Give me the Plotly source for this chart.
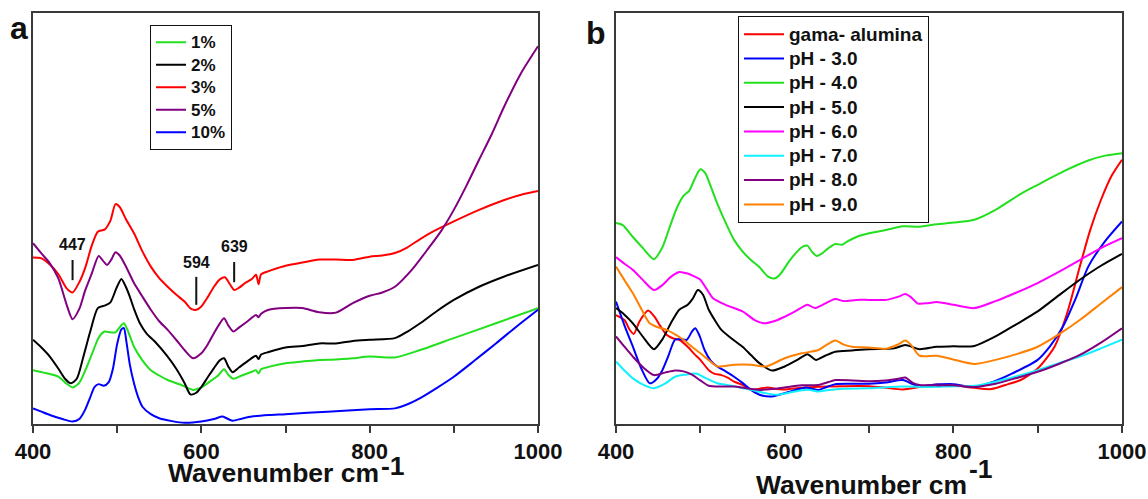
import plotly.graph_objects as go

# ---------------- Panel a: loading series (absorbance, a.u.) ----------------
wn_1 = [400, 415, 430, 440, 447, 455, 462, 470, 478, 485, 492, 498, 504, 508, 513, 520, 530, 540, 550, 560,
        575, 590, 600, 610, 620, 627, 632, 638, 648, 660, 665, 668, 671, 680, 700, 720, 740, 760, 780, 800,
        830, 860, 900, 950, 1000]
ab_1 = [13.1, 12.4, 11.5, 9.8, 8.9, 10.0, 13.0, 17.0, 21.0, 22.5, 22.3, 22.3, 23.8, 24.5, 22.5, 18.8, 15.5, 13.1, 11.8, 10.7,
        9.6, 8.3, 8.9, 10.3, 11.8, 13.3, 12.0, 11.0, 11.8, 12.7, 13.1, 12.3, 13.3, 13.9, 14.8, 15.2, 15.6, 15.7, 16.0, 16.4,
        16.2, 18.0, 20.9, 24.5, 28.2]

wn_2 = [400, 410, 420, 430, 438, 445, 452, 460, 468, 477, 485, 492, 499, 505, 510, 515, 520, 527, 535, 545,
        560, 570, 580, 587, 594, 600, 608, 615, 622, 627, 632, 637, 645, 655, 665, 668, 671, 680, 700, 720,
        740, 760, 780, 800, 830, 845, 860, 880, 900, 930, 960, 1000]
ab_2 = [20.5, 18.6, 16.4, 13.5, 11.0, 9.9, 11.0, 16.5, 22.5, 28.2, 28.8, 29.6, 33.0, 35.3, 33.5, 31.0, 28.0, 24.5, 22.0, 20.0,
        16.4, 13.5, 10.0, 7.2, 7.6, 9.0, 11.5, 13.6, 15.5, 16.0, 14.0, 12.6, 13.8, 15.3, 16.6, 15.8, 16.9, 17.5, 18.6, 19.0,
        19.6, 19.6, 20.2, 20.5, 20.9, 22.5, 24.5, 27.5, 30.2, 33.4, 35.9, 38.7]

wn_3 = [400, 410, 420, 430, 440, 447, 455, 462, 470, 477, 485, 492, 498, 503, 510, 520, 530, 540, 550, 560,
        570, 580, 588, 594, 600, 608, 615, 622, 628, 634, 639, 645, 652, 660, 665, 668, 671, 680, 690, 700,
        720, 740, 760, 780, 800, 815, 830, 845, 860, 875, 900, 930, 960, 980, 1000]
ab_3 = [40.5, 40.3, 38.8, 36.5, 33.0, 32.0, 34.5, 38.0, 43.5, 46.8, 47.3, 49.5, 53.5, 52.8, 50.0, 46.4, 42.0, 38.3, 35.5, 33.4,
        31.5, 29.8, 28.0, 27.8, 28.6, 31.0, 33.4, 35.2, 35.7, 34.0, 32.6, 33.2, 34.3, 35.3, 36.3, 34.0, 36.4, 37.2, 37.9, 38.5,
        39.3, 40.0, 40.0, 39.9, 40.7, 41.0, 41.6, 43.0, 45.0, 46.8, 49.3, 52.1, 54.5, 55.8, 56.7]

wn_5 = [400, 410, 420, 430, 440, 447, 455, 462, 470, 478, 484, 488, 493, 498, 503, 510, 520, 530, 540, 550,
        560, 570, 580, 590, 600, 608, 615, 622, 627, 632, 638, 645, 655, 665, 668, 671, 680, 700, 720, 740,
        760, 780, 800, 815, 830, 850, 870, 885, 900, 915, 930, 945, 960, 980, 1000]
ab_5 = [44.0, 41.5, 39.1, 35.5, 29.0, 25.5, 28.0, 32.5, 36.7, 40.9, 39.5, 38.7, 40.0, 41.8, 41.0, 38.5, 34.3, 31.0, 27.8, 25.0,
        22.9, 20.5, 18.0, 16.0, 17.2, 19.5, 22.1, 24.5, 25.7, 24.0, 22.5, 23.5, 25.0, 26.5, 26.0, 26.8, 27.8, 28.2, 28.2, 27.2,
        27.1, 29.4, 31.2, 32.0, 33.4, 37.5, 42.8, 47.0, 52.1, 58.0, 64.3, 70.5, 77.3, 85.4, 91.9]

wn_10 = [400, 410, 420, 435, 447, 455, 462, 468, 473, 478, 484, 490, 495, 500, 505, 508, 511, 515, 520, 525,
         530, 540, 550, 565, 580, 600, 615, 625, 630, 637, 648, 660, 680, 700, 750, 800, 830, 845, 860, 880,
         900, 925, 950, 975, 1000]
ab_10 = [3.8, 3.0, 2.2, 1.2, 0.6, 1.2, 3.5, 6.5, 9.0, 9.7, 9.3, 10.2, 13.5, 19.5, 23.0, 23.3, 20.0, 14.5, 9.9, 6.5,
         4.2, 2.4, 1.4, 0.7, 0.3, 0.6, 1.2, 1.8, 1.4, 0.8, 1.3, 1.8, 2.2, 2.4, 3.0, 3.6, 3.8, 4.8, 6.3, 8.8,
         11.5, 15.5, 19.6, 23.8, 27.8]

# ---------------- Panel b: pH series (absorbance, a.u.) ----------------
wn_ga = [400, 410, 416, 421, 428, 438, 446, 452, 460, 468, 475, 485, 493, 500, 510, 517, 525, 533, 540, 550,
         560, 570, 580, 590, 600, 620, 650, 700, 720, 740, 760, 780, 800, 825, 845, 865, 880, 900, 920, 935,
         950, 962, 975, 988, 1000]
ab_ga = [26.5, 25.3, 23.0, 21.9, 25.0, 27.6, 26.0, 24.0, 21.7, 20.8, 20.5, 18.8, 17.0, 15.6, 13.1, 12.2, 11.9, 11.2, 10.3, 9.5,
         8.3, 8.6, 8.9, 8.5, 8.4, 8.8, 9.1, 9.2, 8.8, 8.4, 9.0, 9.6, 9.4, 8.8, 8.5, 9.7, 10.7, 13.5, 18.8, 27.0,
         38.3, 47.0, 54.5, 60.5, 64.3]

wn_ph3 = [400, 410, 420, 430, 440, 448, 455, 462, 470, 477, 484, 490, 494, 499, 505, 512, 520, 530, 540, 550,
          560, 572, 585, 600, 615, 625, 632, 640, 650, 660, 680, 700, 720, 740, 752, 760, 780, 800, 825, 850,
          870, 900, 915, 930, 945, 960, 980, 1000]
ab_ph3 = [29.8, 24.0, 18.8, 13.5, 9.9, 10.9, 13.1, 16.5, 20.5, 20.6, 20.5, 22.5, 23.3, 21.5, 18.0, 15.5, 14.0, 12.8, 11.5, 10.0,
          8.3, 7.0, 6.7, 7.5, 8.4, 8.9, 8.6, 8.3, 9.0, 9.7, 9.8, 9.8, 10.1, 10.7, 9.7, 9.2, 9.6, 9.7, 9.0, 10.5,
          12.3, 15.6, 19.0, 23.7, 30.5, 38.3, 44.5, 49.3]

wn_ph4 = [400, 408, 420, 432, 445, 455, 463, 472, 480, 487, 493, 500, 506, 512, 520, 530, 540, 550, 560, 570,
          580, 588, 595, 605, 615, 622, 627, 632, 638, 645, 652, 660, 668, 675, 685, 700, 720, 740, 760, 780,
          800, 825, 850, 880, 900, 930, 960, 980, 1000]
ab_ph4 = [48.9, 48.4, 45.5, 42.8, 40.1, 43.0, 47.5, 52.5, 55.5, 56.8, 59.5, 62.0, 61.0, 58.0, 53.7, 49.0, 44.8, 42.0, 39.9, 38.2,
          35.9, 35.4, 36.5, 39.5, 42.0, 43.2, 43.4, 42.0, 40.9, 41.6, 42.8, 43.8, 43.6, 44.5, 45.5, 46.4, 47.2, 48.1, 48.0, 48.6,
          49.0, 49.7, 52.1, 56.0, 58.2, 61.4, 64.1, 65.3, 65.9]

wn_ph5 = [400, 410, 420, 432, 445, 455, 465, 475, 485, 491, 497, 503, 510, 518, 525, 537, 550, 560, 570, 585,
          600, 615, 627, 637, 648, 660, 680, 700, 730, 743, 760, 780, 800, 825, 850, 875, 900, 925, 950, 975,
          1000]
ab_ph5 = [28.2, 26.6, 24.5, 21.2, 18.2, 20.6, 24.5, 27.8, 29.0, 30.5, 32.6, 31.5, 27.8, 25.0, 22.9, 20.8, 18.8, 16.8, 14.8, 13.0,
          14.0, 15.6, 17.0, 15.6, 16.6, 17.6, 17.9, 18.2, 18.4, 19.2, 18.2, 18.8, 18.9, 19.0, 21.3, 24.3, 27.4, 31.3, 35.1, 38.5,
          41.4]

wn_ph6 = [400, 410, 420, 432, 445, 455, 465, 475, 485, 492, 500, 507, 515, 530, 550, 565, 575, 590, 600, 615,
          627, 636, 645, 660, 670, 685, 700, 720, 735, 743, 750, 758, 770, 780, 800, 825, 850, 875, 900, 925,
          950, 975, 1000]
ab_ph6 = [40.6, 39.0, 37.5, 35.0, 32.6, 33.8, 35.8, 37.0, 36.6, 36.0, 35.1, 33.0, 30.6, 29.0, 27.4, 25.2, 24.5, 25.2, 26.1, 27.7,
          29.0, 28.2, 29.0, 30.4, 29.9, 30.2, 30.2, 30.2, 31.0, 31.6, 30.8, 29.3, 29.4, 29.7, 29.0, 28.2, 29.9, 32.0, 34.3, 37.0,
          39.9, 42.8, 45.2]

wn_ph7 = [400, 410, 420, 432, 445, 458, 470, 482, 495, 505, 520, 540, 560, 575, 590, 605, 620, 630, 640, 650,
          670, 700, 740, 770, 800, 825, 850, 875, 900, 925, 950, 975, 1000]
ab_ph7 = [15.2, 13.0, 11.1, 9.6, 8.7, 9.8, 11.5, 12.0, 12.3, 11.3, 9.9, 9.2, 8.3, 7.6, 7.1, 7.6, 8.2, 8.3, 7.9, 8.2,
          8.6, 8.7, 9.1, 9.0, 9.2, 9.3, 10.3, 11.6, 13.1, 14.8, 16.4, 18.4, 20.5]

wn_ph8 = [400, 410, 420, 432, 445, 458, 470, 480, 490, 500, 510, 525, 540, 555, 570, 585, 600, 620, 640, 652,
          660, 680, 700, 720, 735, 743, 752, 760, 780, 800, 825, 850, 875, 900, 925, 950, 975, 1000]
ab_ph8 = [21.3, 18.8, 16.4, 13.8, 11.9, 12.5, 13.0, 12.8, 12.0, 10.6, 9.3, 9.1, 9.1, 8.7, 8.3, 8.5, 8.9, 9.4, 9.5, 10.2,
          10.7, 10.6, 10.4, 10.6, 11.0, 11.3, 10.0, 9.5, 9.4, 9.4, 9.0, 9.8, 11.2, 12.7, 14.6, 16.8, 19.8, 23.3]

wn_ph9 = [400, 410, 420, 430, 440, 450, 460, 470, 480, 490, 500, 510, 520, 540, 560, 578, 600, 620, 640, 650,
          660, 670, 680, 700, 720, 735, 743, 750, 760, 780, 800, 825, 850, 875, 900, 925, 950, 975, 1000]
ab_ph9 = [38.3, 35.0, 31.8, 28.0, 24.5, 23.5, 22.9, 21.8, 20.5, 18.8, 17.2, 15.5, 14.0, 14.4, 14.4, 14.0, 16.0, 17.2, 18.0, 19.3,
          20.3, 19.3, 18.8, 18.6, 18.3, 19.4, 20.3, 19.2, 16.6, 16.6, 15.7, 14.6, 15.6, 17.0, 18.8, 21.8, 25.3, 29.3, 33.3]

# Band positions marked on panel a
band_wn = [447, 594, 639]
band_labels = ["447", "594", "639"]
band_text_y = [43.6, 39.4, 43.1]
band_tick_y0 = [35.0, 29.0, 34.5]
band_tick_y1 = [39.9, 35.8, 39.4]

tick_vals = [400, 500, 600, 700, 800, 900, 1000]
tick_text = ["400", "", "600", "", "800", "", "1000"]

panel_a = [
    ("1%", wn_1, ab_1, "#22e01e"),
    ("2%", wn_2, ab_2, "#000000"),
    ("3%", wn_3, ab_3, "#ff0000"),
    ("5%", wn_5, ab_5, "#800080"),
    ("10%", wn_10, ab_10, "#0000ff"),
]
panel_b = [
    ("gama- alumina", wn_ga, ab_ga, "#ff0000"),
    ("pH - 3.0", wn_ph3, ab_ph3, "#0000ff"),
    ("pH - 4.0", wn_ph4, ab_ph4, "#22e01e"),
    ("pH - 5.0", wn_ph5, ab_ph5, "#000000"),
    ("pH - 6.0", wn_ph6, ab_ph6, "#ff00ff"),
    ("pH - 7.0", wn_ph7, ab_ph7, "#10f0ff"),
    ("pH - 8.0", wn_ph8, ab_ph8, "#800080"),
    ("pH - 9.0", wn_ph9, ab_ph9, "#ff8000"),
]

FONT = "Liberation Sans, Arial, sans-serif"
W, H = 1148, 499


def px_x(p):
    return p / W


def px_y(p):
    return 1 - p / H


fig = go.Figure()

for name, x, y, c in panel_a:
    fig.add_trace(go.Scatter(
        x=x, y=y, mode="lines", xaxis="x", yaxis="y", legend="legend",
        name=f'<span style="font-size:17px">{name}</span>',
        line=dict(color=c, width=2, shape="spline", smoothing=0.7),
    ))

for name, x, y, c in panel_b:
    fig.add_trace(go.Scatter(
        x=x, y=y, mode="lines", xaxis="x2", yaxis="y2", legend="legend2",
        name=f'<span style="font-size:19px">{name}</span>',
        line=dict(color=c, width=2, shape="spline", smoothing=0.7),
    ))

# Band markers on panel a
for wv, lab, ty, y0, y1 in zip(band_wn, band_labels, band_text_y, band_tick_y0, band_tick_y1):
    fig.add_shape(type="line", xref="x", yref="y", x0=wv, x1=wv, y0=y0, y1=y1,
                  line=dict(color="#111111", width=2))
    fig.add_annotation(xref="x", yref="y", x=wv, y=ty, text=lab, showarrow=False,
                       font=dict(family=FONT, size=16, color="#111111", weight="bold"))

axis_line = "#3a3a3a"
xcommon = dict(range=[400, 1000], showline=True, mirror=True, linecolor=axis_line, linewidth=1.5,
               ticks="outside", ticklen=7, tickwidth=1.5, tickcolor=axis_line,
               tickvals=tick_vals, ticktext=tick_text, showgrid=False, zeroline=False,
               automargin=False, ticklabelstandoff=0,
               tickfont=dict(family=FONT, size=22, color="#111111", weight="bold"))
ycommon = dict(range=[0, 100], showline=True, mirror=True, linecolor=axis_line, linewidth=1.5,
               ticks="", showticklabels=False, showgrid=False, zeroline=False, automargin=False)

ydom = [px_y(424), px_y(13)]

fig.update_layout(
    width=W, height=H,
    template="none",
    paper_bgcolor="white", plot_bgcolor="white",
    margin=dict(l=0, r=0, t=0, b=0, autoexpand=False),
    xaxis=dict(domain=[px_x(33), px_x(538)], anchor="y", **xcommon),
    yaxis=dict(domain=ydom, anchor="x", **ycommon),
    xaxis2=dict(domain=[px_x(616), px_x(1122)], anchor="y2", **xcommon),
    yaxis2=dict(domain=ydom, anchor="x2", **ycommon),
    showlegend=True,
    legend=dict(x=px_x(150), y=px_y(25), xanchor="left", yanchor="top",
                bgcolor="white", bordercolor="#111111", borderwidth=1,
                font=dict(family=FONT, size=15, color="#111111", weight="bold"),
                itemwidth=30, tracegroupgap=0),
    legend2=dict(x=px_x(738), y=px_y(16), xanchor="left", yanchor="top",
                 bgcolor="white", bordercolor="#111111", borderwidth=1,
                 font=dict(family=FONT, size=16.4, color="#111111", weight="bold"),
                 itemwidth=40, tracegroupgap=0),
)

# Panel letters
fig.add_annotation(xref="paper", yref="paper", x=px_x(18.5), y=px_y(27.5), text="a", showarrow=False,
                   xanchor="center", yanchor="middle",
                   font=dict(family=FONT, size=32, color="#111111", weight="bold"))
fig.add_annotation(xref="paper", yref="paper", x=px_x(596), y=px_y(33), text="b", showarrow=False,
                   xanchor="center", yanchor="middle",
                   font=dict(family=FONT, size=32, color="#111111", weight="bold"))

# Axis titles with full-size superscript
title_font = dict(family=FONT, size=26.5, color="#111111", weight="bold")
for tx, ty, sx, sy in [(166, 473, 379, 465.5), (754, 484.5, 967, 469)]:
    fig.add_annotation(xref="paper", yref="paper", x=px_x(tx), y=px_y(ty), text="Wavenumber cm",
                       showarrow=False, xanchor="left", yanchor="middle", font=title_font)
    fig.add_annotation(xref="paper", yref="paper", x=px_x(sx), y=px_y(sy), text="-1",
                       showarrow=False, xanchor="left", yanchor="middle", font=title_font)

fig.write_html("out.html")
